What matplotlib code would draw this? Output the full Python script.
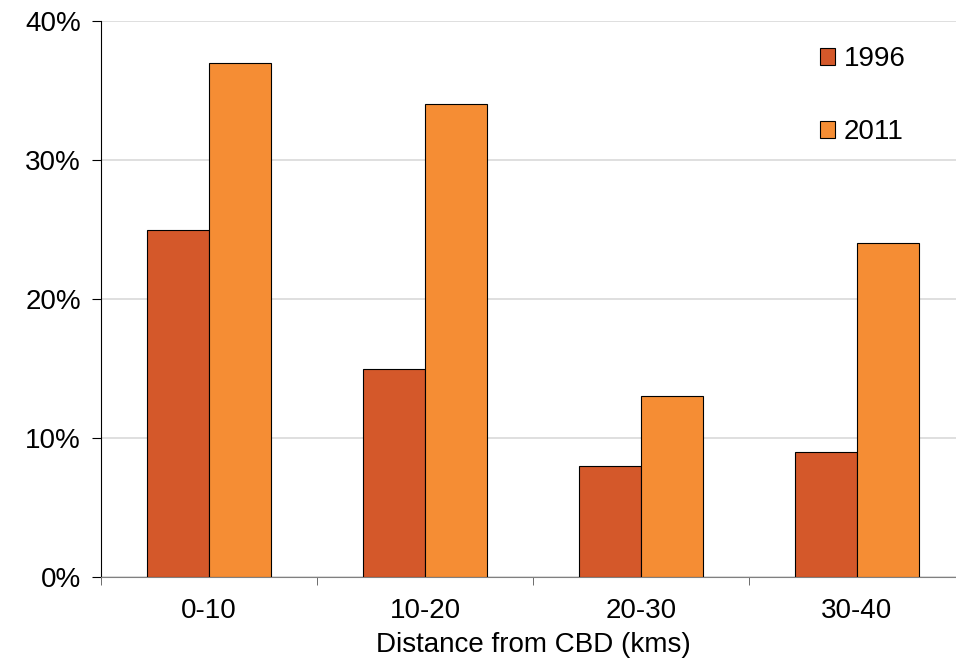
import matplotlib
matplotlib.use("Agg")
import matplotlib.pyplot as plt
import numpy as np

categories = ["0-10", "10-20", "20-30", "30-40"]
v1996 = [25, 15, 8, 9]
v2011 = [37, 34, 13, 24]
yticks = [0, 10, 20, 30, 40]

plt.rcParams['font.family'] = ['Liberation Sans', 'DejaVu Sans']
FS = 20

fig = plt.figure(figsize=(9.56, 6.7), dpi=100)
ax = fig.add_axes([101/956, 93/670, 864/956, 556/670])
x = np.arange(len(categories))
w = 0.285
ax.bar(x - w/2, v1996, w, color='#D4582A', edgecolor='black', linewidth=0.8, label='1996', zorder=3)
ax.bar(x + w/2, v2011, w, color='#F58D34', edgecolor='black', linewidth=0.8, label='2011', zorder=3)

ax.set_xlim(-0.5, 3.5)
ax.set_ylim(0, 40)
ax.set_yticks(yticks)
ax.set_yticklabels([f"{t}%" for t in yticks])
ax.set_xticks(x)
ax.set_xticklabels(categories)
ax.set_xticks(np.arange(-0.5, 4, 1), minor=True)
ax.tick_params(axis='x', which='major', length=0, pad=15, labelsize=FS)
ax.tick_params(axis='x', which='minor', length=6, color='#555555')
ax.tick_params(axis='y', length=6.5, labelsize=FS, pad=8)
ax.yaxis.grid(True, color='#d9d9d9', linewidth=1.2, zorder=0)
ax.set_axisbelow(True)
for s in ['top', 'right']:
    ax.spines[s].set_visible(False)
ax.spines['bottom'].set_color('#808080')
ax.spines['left'].set_color('black')
ax.set_xlabel("Distance from CBD (kms)", fontsize=FS, labelpad=6)

leg = ax.legend(loc='upper left', bbox_to_anchor=(694/864, 1.0), frameon=False,
                fontsize=FS, handlelength=0.55, handleheight=0.55, handletextpad=0.3,
                labelspacing=1.7)
fig.savefig("out.png", dpi=100)
